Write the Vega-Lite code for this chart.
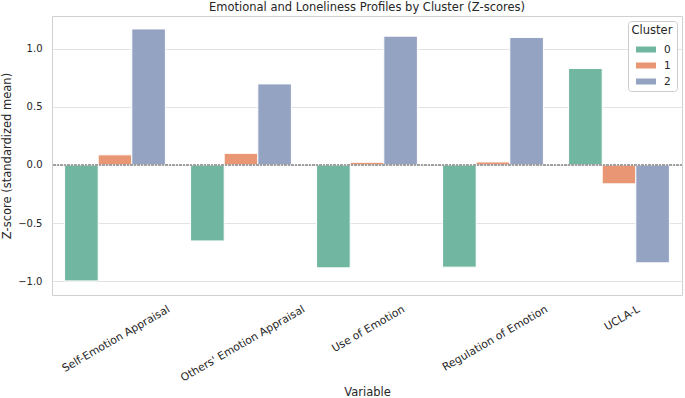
{
  "$schema": "https://vega.github.io/schema/vega-lite/v6.json",
  "width": 630,
  "height": 279,
  "autosize": {"type": "none"},
  "padding": {"left": 52, "top": 16, "right": 3, "bottom": 103},
  "background": "white",
  "title": {
    "text": "Emotional and Loneliness Profiles by Cluster (Z-scores)",
    "font": "DejaVu Sans",
    "fontSize": 11.5,
    "fontWeight": "normal",
    "color": "#262626",
    "baseline": "bottom",
    "offset": 1,
    "dy": 9
  },
  "config": {
    "view": {"stroke": "#d0d0d0", "strokeWidth": 1},
    "font": "DejaVu Sans",
    "axis": {
      "labelFont": "DejaVu Sans",
      "titleFont": "DejaVu Sans",
      "labelColor": "#262626",
      "titleColor": "#262626",
      "titleFontWeight": "normal",
      "labelFontSize": 10,
      "titleFontSize": 11.5,
      "domain": false,
      "ticks": false,
      "tickSize": 0,
      "gridColor": "#e3e3e3",
      "gridWidth": 1
    },
    "legend": {
      "labelFont": "DejaVu Sans",
      "titleFont": "DejaVu Sans"
    }
  },
  "data": {
    "values": [
      {"Variable": "Self-Emotion Appraisal", "Cluster": "0", "z": -0.995},
      {"Variable": "Self-Emotion Appraisal", "Cluster": "1", "z": 0.087},
      {"Variable": "Self-Emotion Appraisal", "Cluster": "2", "z": 1.168},
      {"Variable": "Others' Emotion Appraisal", "Cluster": "0", "z": -0.652},
      {"Variable": "Others' Emotion Appraisal", "Cluster": "1", "z": 0.100},
      {"Variable": "Others' Emotion Appraisal", "Cluster": "2", "z": 0.696},
      {"Variable": "Use of Emotion", "Cluster": "0", "z": -0.883},
      {"Variable": "Use of Emotion", "Cluster": "1", "z": 0.023},
      {"Variable": "Use of Emotion", "Cluster": "2", "z": 1.106},
      {"Variable": "Regulation of Emotion", "Cluster": "0", "z": -0.877},
      {"Variable": "Regulation of Emotion", "Cluster": "1", "z": 0.026},
      {"Variable": "Regulation of Emotion", "Cluster": "2", "z": 1.095},
      {"Variable": "UCLA-L", "Cluster": "0", "z": 0.828},
      {"Variable": "UCLA-L", "Cluster": "1", "z": -0.162},
      {"Variable": "UCLA-L", "Cluster": "2", "z": -0.840}
    ]
  },
  "layer": [
    {
      "mark": {"type": "bar", "stroke": "white", "strokeWidth": 1},
      "encoding": {
        "x": {
          "field": "Variable",
          "type": "nominal",
          "sort": null,
          "scale": {"paddingInner": 0.2, "paddingOuter": 0.1},
          "axis": {
            "title": "Variable",
            "grid": false,
            "labelAngle": -30,
            "labelAlign": "right",
            "labelBaseline": "top",
            "labelFontSize": 10.8,
            "labelPadding": 8,
            "labelOffset": {
              "condition": [
                {"test": "datum.value == 'Self-Emotion Appraisal'", "value": 51},
                {"test": "datum.value == \"Others' Emotion Appraisal\"", "value": 60},
                {"test": "datum.value == 'Use of Emotion'", "value": 34},
                {"test": "datum.value == 'Regulation of Emotion'", "value": 51}
              ],
              "value": 17
            },
            "titleY": 100,
            "titleBaseline": "alphabetic"
          }
        },
        "xOffset": {
          "field": "Cluster",
          "type": "nominal",
          "scale": {"paddingInner": 0, "paddingOuter": 0}
        },
        "y": {
          "field": "z",
          "type": "quantitative",
          "scale": {"domain": [-1.116, 1.279], "nice": false, "zero": false},
          "axis": {
            "title": "Z-score (standardized mean)",
            "values": [-1, -0.5, 0, 0.5, 1],
            "format": ".1f",
            "labelPadding": 10,
            "titleX": -42,
            "titleBaseline": "alphabetic"
          }
        },
        "color": {
          "field": "Cluster",
          "type": "nominal",
          "scale": {"domain": ["0", "1", "2"], "range": ["#71b6a1", "#e99675", "#95a3c3"]},
          "legend": {
            "title": "Cluster",
            "orient": "none",
            "legendX": 576,
            "legendY": 5,
            "padding": 4,
            "strokeColor": "#cccccc",
            "fillColor": "white",
            "cornerRadius": 3,
            "titleFontSize": 11.5,
            "titleFontWeight": "normal",
            "titleColor": "#262626",
            "titleAnchor": "middle",
            "titlePadding": 3,
            "labelFontSize": 10.5,
            "labelColor": "#262626",
            "labelOffset": 8,
            "symbolType": "M-1,-0.3H1V0.3H-1Z",
            "symbolSize": 400,
            "symbolStrokeWidth": 0,
            "symbolOpacity": 1,
            "symbolOffset": 2,
            "rowPadding": 0
          }
        }
      }
    },
    {
      "mark": {"type": "rule", "color": "#a0a0a0", "strokeWidth": 0.8, "strokeDash": [2, 1.5]},
      "encoding": {"y": {"datum": 0}}
    }
  ]
}
